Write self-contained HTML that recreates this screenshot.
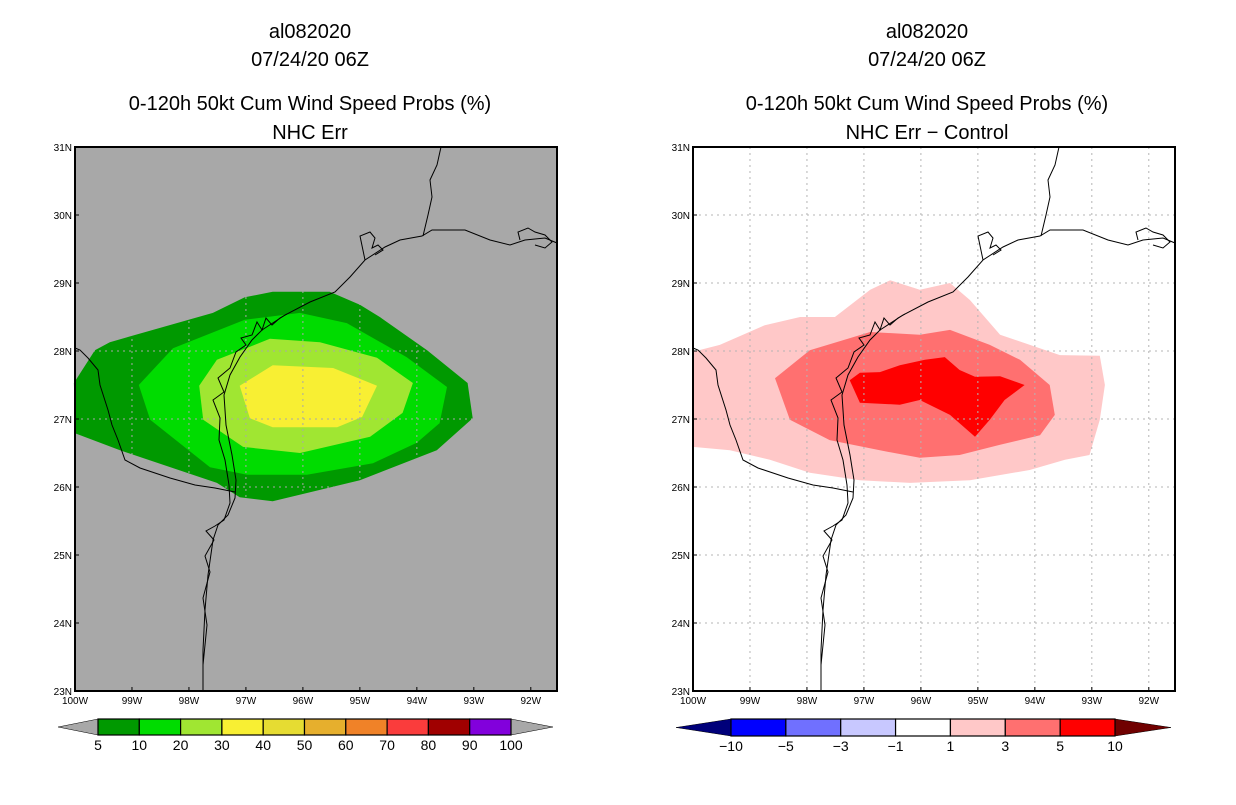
<!DOCTYPE html>
<html><head><meta charset="utf-8"><style>
html,body{margin:0;padding:0;background:#fff;}
svg text{font-family:"Liberation Sans",sans-serif;}
</style></head><body>
<svg id="root" width="1236" height="800" viewBox="0 0 1236 800" xmlns="http://www.w3.org/2000/svg">
<g font-size="20" text-anchor="middle" fill="#000">
<text x="310" y="38">al082020</text>
<text x="310" y="66">07/24/20 06Z</text>
<text x="310" y="110">0-120h 50kt Cum Wind Speed Probs (%)</text>
<text x="310" y="139">NHC Err</text>
</g>
<g font-size="20" text-anchor="middle" fill="#000">
<text x="927" y="38">al082020</text>
<text x="927" y="66">07/24/20 06Z</text>
<text x="927" y="110">0-120h 50kt Cum Wind Speed Probs (%)</text>
<text x="927" y="139">NHC Err − Control</text>
</g>
<g id="leftMap"></g>
<g id="rightMap"></g>
<g id="leftBar"></g>
<g id="rightBar"></g>
</svg>
<script>
const NS="http://www.w3.org/2000/svg";
// axis data
const lonTicks=[-100,-99,-98,-97,-96,-95,-94,-93,-92];
const lonLabels=["100W","99W","98W","97W","96W","95W","94W","93W","92W"];
const latTicks=[23,24,25,26,27,28,29,30,31];
const latLabels=["23N","24N","25N","26N","27N","28N","29N","30N","31N"];
// left map contours (lon, lat)
const leftLevels=["5","10","20","30"];
const leftColors=["#009900","#00dc00","#a0e632","#f8ef33"];
const left5=[[-100.02,27.53],[-99.65,28.01],[-99.39,28.13],[-97.58,28.56],[-97.02,28.79],[-96.53,28.87],[-95.53,28.87],[-95.0,28.68],[-94.65,28.5],[-93.82,28.01],[-93.11,27.53],[-93.02,27.01],[-93.65,26.54],[-95.0,26.1],[-96.53,25.79],[-97.11,25.85],[-97.51,26.06],[-99.21,26.54],[-100,26.79]];
const left10=[[-98.88,27.5],[-98.28,28.04],[-97.02,28.46],[-96.05,28.56],[-95.23,28.41],[-94.18,27.91],[-93.47,27.47],[-93.6,26.94],[-94.0,26.65],[-94.77,26.35],[-95.93,26.18],[-96.98,26.18],[-97.63,26.29],[-98.68,26.99]];
const left20=[[-97.82,27.49],[-97.51,27.87],[-96.58,28.18],[-95.7,28.13],[-94.7,27.9],[-94.07,27.53],[-94.25,27.09],[-94.82,26.74],[-96.05,26.5],[-97.05,26.59],[-97.75,26.99]];
const left30=[[-97.11,27.49],[-96.53,27.79],[-95.47,27.75],[-94.7,27.49],[-94.96,27.03],[-95.4,26.88],[-96.53,26.88],[-96.93,27.01]];
// right map contours
const rightLevels=["1","3","5"];
const rightColors=["#ffc8c8","#ff7070","#ff0000"];
const right1=[[-100,27.99],[-99.53,28.09],[-98.74,28.38],[-98.12,28.5],[-97.51,28.5],[-96.89,28.9],[-96.54,29.04],[-96.02,28.9],[-95.49,29.0],[-95.14,28.75],[-94.61,28.24],[-93.56,27.94],[-92.86,27.93],[-92.77,27.5],[-92.86,26.99],[-93.04,26.47],[-93.47,26.4],[-94.09,26.25],[-95.14,26.1],[-96.19,26.06],[-97.07,26.1],[-97.95,26.21],[-98.65,26.4],[-99.35,26.54],[-100,26.59]];
const right3=[[-98.56,27.6],[-97.95,28.01],[-96.89,28.28],[-96.02,28.24],[-95.49,28.31],[-94.79,28.09],[-94.26,27.87],[-93.74,27.5],[-93.65,27.06],[-93.91,26.76],[-94.61,26.62],[-95.32,26.47],[-96.02,26.43],[-96.72,26.54],[-97.6,26.69],[-98.3,26.99]];
const right5=[[-97.25,27.57],[-97.07,27.68],[-96.72,27.69],[-96.37,27.79],[-95.93,27.87],[-95.58,27.91],[-95.32,27.72],[-95.05,27.62],[-94.61,27.63],[-94.18,27.5],[-94.53,27.28],[-94.79,26.99],[-95.05,26.74],[-95.49,27.06],[-96.02,27.28],[-96.37,27.21],[-97.07,27.24]];
// colorbars
const leftBarLabels=["5","10","20","30","40","50","60","70","80","90","100"];
const leftBarColors=["#009900","#00dc00","#a0e632","#f8ef33","#e6dc32","#e6af2d","#f08228","#fa3c3c","#a00000","#8200dc"];
const rightBarLabels=["−10","−5","−3","−1","1","3","5","10"];
const rightBarColors=["#0000ff","#7070ff","#c8c8ff","#ffffff","#ffc8c8","#ff7070","#ff0000"];

const W0=-100,W1=-91.54,L0=23,L1=31;
function mk(tag,attrs,parent){const e=document.createElementNS(NS,tag);for(const k in attrs)e.setAttribute(k,attrs[k]);parent.appendChild(e);return e;}
function xs(ox,lon){return ox+(lon-W0)/(W1-W0)*482;}
function ys(lat){return 147+(L1-lat)/(L1-L0)*544;}
// coastline basemap in left-map pixel frame (shifted for right map)
const coastLines=[
[[203,691],[203,650],[205,610],[208,575],[213,540],[218,525],[228,515],[235,498],[236,480],[232,455],[226,425],[224,395],[230,375],[240,357],[252,340],[262,330],[285,315],[310,302],[335,292],[350,277],[365,260],[385,247],[400,240],[422,236],[432,230],[465,230],[490,240],[510,245],[525,240],[545,238],[557,243]],
[[203,665],[207,625],[203,598],[210,572],[205,556],[214,540],[206,531],[215,526],[224,520],[230,503],[229,485],[225,460],[219,440],[220,418],[213,400],[224,392],[218,378],[230,368],[236,352],[246,345],[241,338],[252,335],[257,322],[262,330],[266,318],[272,325],[280,318],[287,314]],
[[235,492],[215,488],[195,485],[170,478],[140,468],[125,460],[118,440],[112,425],[108,410],[100,385],[98,370],[88,358],[80,350],[75,348]],
[[423,236],[428,215],[432,197],[430,180],[437,165],[441,147]],
[[365,260],[360,236],[370,232],[375,238],[372,248],[378,245],[383,250],[375,255]],
[[520,240],[518,232],[528,228],[535,232],[545,235],[552,242],[545,248],[535,245]]
];
function drawMap(g,ox,bg,polys,colors,names,gridColor){
  mk('rect',{x:ox,y:147,width:482,height:544,fill:bg,},g);
  polys.forEach((p,i)=>{
    const el=mk('polygon',{points:p.map(q=>xs(ox,q[0]).toFixed(1)+','+ys(q[1]).toFixed(1)).join(' '),fill:colors[i]},g);
    
    
  });
  lonTicks.forEach((lon,i)=>{
    const x=xs(ox,lon);
    if(i>0){const l=mk('line',{x1:x,y1:147,x2:x,y2:691,stroke:gridColor,'stroke-dasharray':'2,4','stroke-width':1},g);
    }
    mk('line',{x1:x,y1:691,x2:x,y2:687,stroke:'#000'},g);
    const tx=mk('text',{x:x,y:704,'font-size':10,'text-anchor':'middle'},g);tx.textContent=lonLabels[i];
    
  });
  latTicks.forEach((lat,i)=>{
    const y=ys(lat);
    if(i>0&&i<latTicks.length-1){const l=mk('line',{x1:ox,y1:y,x2:ox+482,y2:y,stroke:gridColor,'stroke-dasharray':'2,4','stroke-width':1},g);
    }
    mk('line',{x1:ox,y1:y,x2:ox+4,y2:y,stroke:'#000'},g);
    const tx=mk('text',{x:ox-3,y:y+4,'font-size':10,'text-anchor':'end'},g);tx.textContent=latLabels[i];
    
  });
  coastLines.forEach(c=>{
    const pl=mk('polyline',{points:c.map(q=>(q[0]-75+ox)+','+q[1]).join(' '),fill:'none',stroke:'#000','stroke-width':1},g);
    
  });
  const fr=mk('rect',{x:ox,y:147,width:482,height:544,fill:'none',stroke:'#000','stroke-width':2},g);
  
}
drawMap(document.getElementById('leftMap'),75,'#a8a8a8',[left5,left10,left20,left30],leftColors,leftLevels,'#a8a8a8');
drawMap(document.getElementById('rightMap'),693,'#ffffff',[right1,right3,right5],rightColors,rightLevels,'#b4b4b4');

function drawBar(g,x0,x1,x2,x3,y0,y1,colors,labels,lc,rc){
  const ym=(y0+y1)/2;
  const a=mk('polygon',{points:`${x0},${ym} ${x1},${y0} ${x1},${y1}`,fill:lc,stroke:'#000','stroke-width':0.5},g);
  
  const b=mk('polygon',{points:`${x3},${ym} ${x2},${y0} ${x2},${y1}`,fill:rc,stroke:'#000','stroke-width':0.5},g);
  
  const w=(x2-x1)/colors.length;
  colors.forEach((c,i)=>{
    const r=mk('rect',{x:x1+i*w,y:y0,width:w,height:y1-y0,fill:c,stroke:'#000','stroke-width':1.2},g);
    
  });
  labels.forEach((l,i)=>{
    const t=mk('text',{x:x1+i*w,y:y1+15,'font-size':14,'text-anchor':'middle'},g);t.textContent=l;
    
  });
}
drawBar(document.getElementById('leftBar'),58,98,511,553,719,735,leftBarColors,leftBarLabels,'#a8a8a8','#a8a8a8');
drawBar(document.getElementById('rightBar'),676,731,1115,1171,719,736,rightBarColors,rightBarLabels,'#00007a','#700000');
</script>
</body></html>
